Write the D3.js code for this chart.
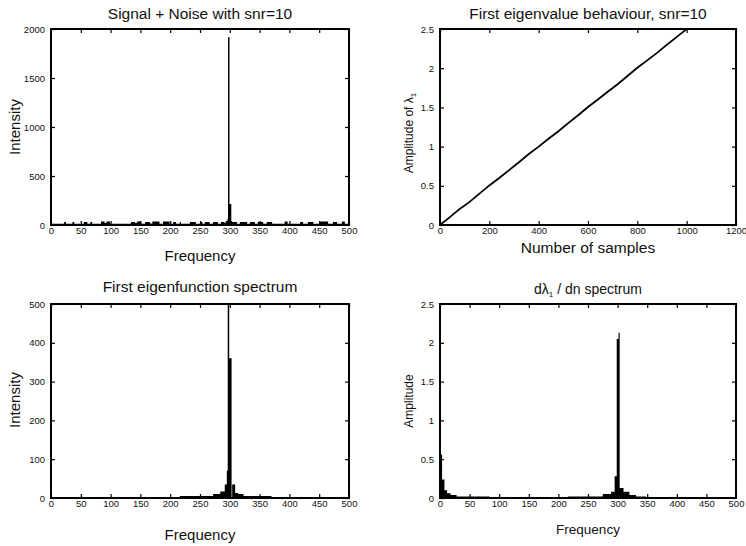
<!DOCTYPE html>
<html>
<head>
<meta charset="utf-8">
<script src="https://cdn.jsdelivr.net/npm/d3@7"></script>
<style>
  body { margin: 0; background: #fff; }
  svg { display: block; font-family: "Liberation Sans", Arial, Helvetica, sans-serif; }
  .tick text { fill: #111; }
</style>
</head>
<body>
<svg id="fig" width="746" height="546"></svg>
<script>
// ---- Signal + noise spectrum (step breakpoints: frequency, intensity) ----
const sigFreq = [0, 22, 25, 36, 39, 55, 61, 66, 69, 84, 90, 93, 99, 134, 141, 144, 151,
  158, 166, 170, 182, 188, 199, 205, 210, 216, 218, 233, 243, 251, 254, 258, 266,
  272, 280, 285, 291, 293, 296, 297, 299.5, 302.5, 304, 312, 317, 329, 334, 342,
  347, 356, 362, 371, 392, 397, 418, 423, 431, 440, 451, 465, 473, 480, 488, 493, 500];
const sigIntensity = [12, 30, 12, 30, 12, 30, 12, 30, 12, 35, 20, 35, 12, 30, 20, 35, 12,
  30, 15, 35, 12, 35, 12, 30, 12, 30, 12, 30, 12, 30, 12, 30, 12,
  30, 12, 30, 20, 40, 60, 1915, 215, 40, 30, 12, 30, 12, 30, 12,
  30, 12, 30, 12, 35, 12, 30, 12, 30, 12, 35, 12, 30, 12, 35, 12, 12];

// ---- First eigenvalue vs number of samples ----
const nSamples = [0, 40, 80, 120, 160, 200, 240, 280, 320, 360, 400, 440, 480, 520,
  560, 600, 640, 680, 720, 760, 800, 840, 880, 920, 960, 1000];
const lambda1 = [0.00, 0.10, 0.205, 0.295, 0.40, 0.505, 0.60, 0.70, 0.80, 0.905, 1.00, 1.10,
  1.195, 1.30, 1.40, 1.505, 1.60, 1.70, 1.795, 1.90, 2.005, 2.10, 2.195, 2.30, 2.40, 2.50];

// ---- First eigenfunction spectrum ----
const efFreq = [216, 272, 284, 291.5, 295, 296.5, 299, 303, 304, 309, 314, 323, 370];
const efIntensity = [5, 10, 17, 35, 70, 560, 360, 0, 35, 13, 10, 5, 0];

// ---- d(lambda1)/dn spectrum ----
const dlFreq = [0, 3.5, 7.5, 12, 18, 28, 84, 216, 275, 289, 295, 298.5, 301.5, 303.5,
  310, 320, 331, 348];
const dlAmplitude = [0.56, 0.24, 0.10, 0.06, 0.04, 0.02, 0, 0.02, 0.05, 0.08, 0.28, 2.05,
  2.13, 0.13, 0.08, 0.04, 0.02, 0];

// ---- Axis ticks ----
const freqTicks = [0, 50, 100, 150, 200, 250, 300, 350, 400, 450, 500];
const sampleTicks = [0, 200, 400, 600, 800, 1000, 1200];
const intensityTicksTop = [0, 500, 1000, 1500, 2000];
const intensityTicksBottom = [0, 100, 200, 300, 400, 500];
const amplitudeTicks = [0, 0.5, 1, 1.5, 2, 2.5];

const svg = d3.select("#fig");
const fmt = d3.format("~g");
let clipId = 0;

function panel(o) {
  const g = svg.append("g");
  const x = d3.scaleLinear().domain(o.xDomain).range([o.l, o.r]);
  const y = d3.scaleLinear().domain(o.yDomain).range([o.b, o.t]);

  const id = "clip" + (clipId++);
  svg.append("clipPath").attr("id", id).append("rect")
    .attr("x", o.l).attr("y", o.t).attr("width", o.r - o.l).attr("height", o.b - o.t);

  const plot = g.append("g").attr("clip-path", `url(#${id})`);
  o.draw(plot, x, y);

  const tk = 4;
  // bottom (labelled) and top (ticks only)
  g.append("g").attr("transform", `translate(0,${o.b})`)
    .call(d3.axisBottom(x).tickValues(o.xTicks).tickSizeInner(-tk).tickSizeOuter(0)
      .tickPadding(2).tickFormat(fmt))
    .call(a => { a.select(".domain").remove(); a.selectAll("text").attr("font-size", o.tickFont); });
  g.append("g").attr("transform", `translate(0,${o.t})`)
    .call(d3.axisTop(x).tickValues(o.xTicks).tickSizeInner(-tk).tickSizeOuter(0).tickFormat(""))
    .call(a => a.select(".domain").remove());
  // left (labelled) and right (ticks only)
  g.append("g").attr("transform", `translate(${o.l},0)`)
    .call(d3.axisLeft(y).tickValues(o.yTicks).tickSizeInner(-tk).tickSizeOuter(0)
      .tickPadding(6).tickFormat(fmt))
    .call(a => { a.select(".domain").remove(); a.selectAll("text").attr("font-size", o.tickFont); });
  g.append("g").attr("transform", `translate(${o.r},0)`)
    .call(d3.axisRight(y).tickValues(o.yTicks).tickSizeInner(-tk).tickSizeOuter(0).tickFormat(""))
    .call(a => a.select(".domain").remove());
  g.selectAll(".tick line").attr("stroke", "#000").attr("stroke-width", 1.2);

  g.append("rect").attr("x", o.l).attr("y", o.t)
    .attr("width", o.r - o.l).attr("height", o.b - o.t)
    .attr("fill", "none").attr("stroke", "#000").attr("stroke-width", 2);

  const cx = (o.l + o.r) / 2;
  const title = g.append("text").attr("x", cx).attr("y", o.titleY)
    .attr("text-anchor", "middle").attr("font-size", o.titleSize).attr("fill", "#111");
  o.title(title);
  g.append("text").attr("x", cx).attr("y", o.xLabelY)
    .attr("text-anchor", "middle").attr("font-size", o.xLabelSize).attr("fill", "#111")
    .text(o.xLabel);
  const yl = g.append("text")
    .attr("transform", `translate(${o.yLabelX},${o.yLabelCY}) rotate(-90)`)
    .attr("text-anchor", "middle").attr("font-size", o.yLabelSize).attr("fill", "#111");
  o.yLabel(yl);
  return { x, y };
}

function stepArea(freqs, vals, x, y) {
  const pts = freqs.map((f, i) => ({ f, v: vals[i] }));
  return d3.area().x(d => x(d.f)).y0(y(0)).y1(d => y(d.v)).curve(d3.curveStepAfter)(pts);
}

// Signal + Noise
panel({
  l: 51, r: 349, t: 29, b: 225, xDomain: [0, 500], yDomain: [0, 2000],
  xTicks: freqTicks, yTicks: intensityTicksTop, tickFont: 9.5,
  titleY: 19, titleSize: 15.5, title: t => t.text("Signal + Noise with snr=10"),
  xLabel: "Frequency", xLabelY: 261, xLabelSize: 15,
  yLabelX: 20, yLabelCY: 127, yLabelSize: 15, yLabel: t => t.text("Intensity"),
  draw: (p, x, y) => p.append("path").attr("d", stepArea(sigFreq, sigIntensity, x, y)).attr("fill", "#000")
});

// First eigenvalue behaviour
panel({
  l: 440, r: 736, t: 29, b: 225, xDomain: [0, 1200], yDomain: [0, 2.5],
  xTicks: sampleTicks, yTicks: amplitudeTicks, tickFont: 9.5,
  titleY: 19, titleSize: 15.5, title: t => t.text("First eigenvalue behaviour, snr=10"),
  xLabel: "Number of samples", xLabelY: 253, xLabelSize: 15.5,
  yLabelX: 413, yLabelCY: 133, yLabelSize: 12,
  yLabel: t => { t.append("tspan").text("Amplitude of λ"); t.append("tspan").attr("font-size", 8).attr("dy", 3).text("1"); },
  draw: (p, x, y) => p.append("path")
    .datum(nSamples.map((n, i) => [n, lambda1[i]]))
    .attr("d", d3.line().x(d => x(d[0])).y(d => y(d[1])))
    .attr("fill", "none").attr("stroke", "#000").attr("stroke-width", 1.8)
});

// First eigenfunction spectrum
panel({
  l: 51, r: 349, t: 304, b: 498, xDomain: [0, 500], yDomain: [0, 500],
  xTicks: freqTicks, yTicks: intensityTicksBottom, tickFont: 9.5,
  titleY: 292, titleSize: 15.5, title: t => t.text("First eigenfunction spectrum"),
  xLabel: "Frequency", xLabelY: 540, xLabelSize: 15,
  yLabelX: 20, yLabelCY: 400, yLabelSize: 15, yLabel: t => t.text("Intensity"),
  draw: (p, x, y) => p.append("path").attr("d", stepArea(efFreq, efIntensity, x, y)).attr("fill", "#000")
});

// d lambda1 / dn spectrum
panel({
  l: 440, r: 736, t: 304, b: 498, xDomain: [0, 500], yDomain: [0, 2.5],
  xTicks: freqTicks, yTicks: amplitudeTicks, tickFont: 9.5,
  titleY: 294, titleSize: 14,
  title: t => {
    t.append("tspan").text("dλ");
    t.append("tspan").attr("font-size", 8).attr("dy", 3).text("1");
    t.append("tspan").attr("dy", -3).text(" / dn spectrum");
  },
  xLabel: "Frequency", xLabelY: 534, xLabelSize: 13.5,
  yLabelX: 413, yLabelCY: 401, yLabelSize: 12, yLabel: t => t.text("Amplitude"),
  draw: (p, x, y) => p.append("path").attr("d", stepArea(dlFreq, dlAmplitude, x, y)).attr("fill", "#000")
});
</script>
</body>
</html>
